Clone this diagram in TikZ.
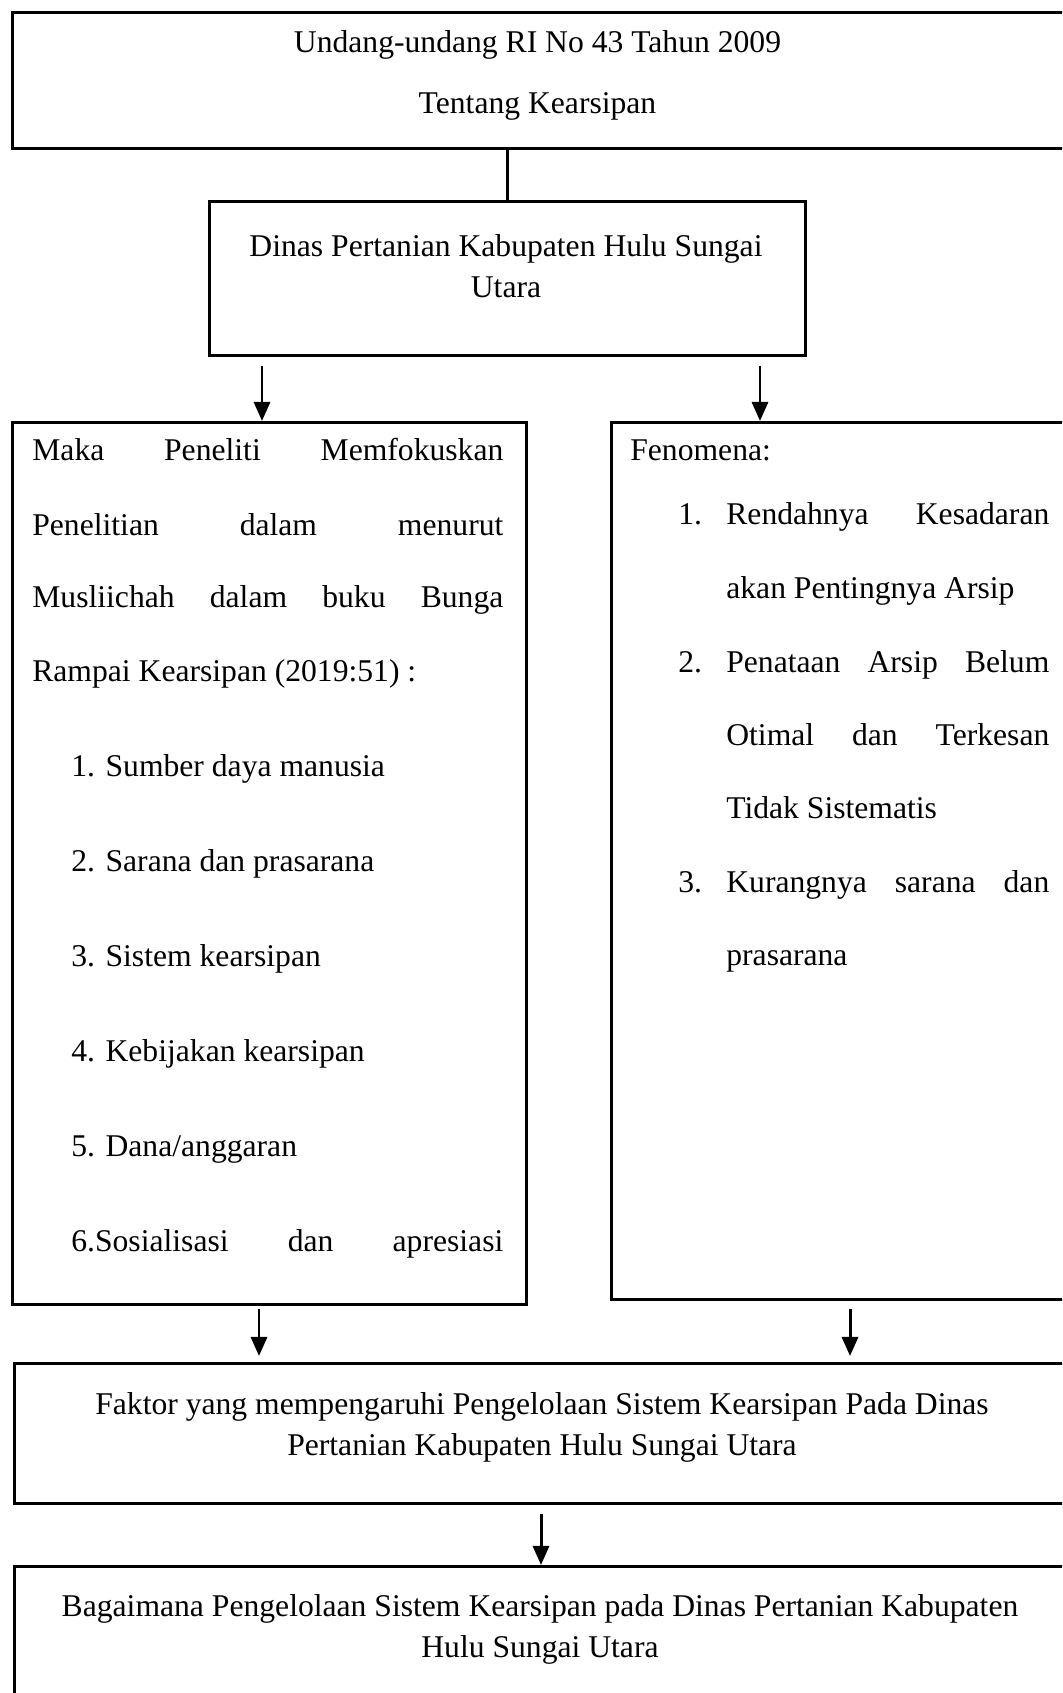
\documentclass[tikz,border=0pt]{standalone}
\usepackage{fontspec}
\setmainfont{Liberation Serif}
\usetikzlibrary{arrows.meta}

\newcommand{\justline}[2]{\hbox to #1{#2}}

\begin{document}
\begin{tikzpicture}[
    box/.style 2 args={draw, line width=1.7pt, anchor=north west, inner sep=0pt, minimum width=#1, minimum height=#2},
    txt/.style={font=\fontsize{18}{23}\selectfont, inner sep=0pt},
    ln/.style={txt, anchor=mid west, yshift=-0.13cm},
    arr/.style={line width=1.7pt, -{Triangle[length=0.38cm,width=0.32cm]}}
  ]
    \clip (0,0) rectangle (21.24,33.86);
    \node[box={21.08cm}{2.72cm}] (uu) at (0.22,33.64) {};
    \node[txt, align=center] (uutxt) at (10.75,32.35) {Undang-undang RI No 43 Tahun 2009\\[12pt]Tentang Kearsipan};
    \node[box={11.92cm}{3.08cm}] (dinas) at (4.16,29.86) {};
    \node[txt, align=center] (dinastxt) at (10.12,28.54) {Dinas Pertanian Kabupaten Hulu Sungai\\Utara};
    \node[box={10.28cm}{17.64cm}] (fokus) at (0.22,25.44) {};
    \node[box={9.2cm}{17.54cm}] (fenomena) at (12.2,25.44) {};
    \node[box={21.1cm}{2.8cm}] (faktor) at (0.26,6.62) {};
    \node[txt, align=center] (faktortxt) at (10.84,5.31) {Faktor yang mempengaruhi Pengelolaan Sistem Kearsipan Pada Dinas\\Pertanian Kabupaten Hulu Sungai Utara};
    \node[box={21.1cm}{3.2cm}] (bagaimana) at (0.26,2.56) {};
    \node[txt, align=center] (bagaimanatxt) at (10.8,1.27) {Bagaimana Pengelolaan Sistem Kearsipan pada Dinas Pertanian Kabupaten\\Hulu Sungai Utara};

    \node[ln] (f1) at (0.64,24.86) {\justline{9.42cm}{Maka\hfill Peneliti\hfill Memfokuskan}};
    \node[ln] (f2) at (0.64,23.36) {\justline{9.42cm}{Penelitian\hfill dalam\hfill menurut}};
    \node[ln] (f3) at (0.64,21.92) {\justline{9.42cm}{Musliichah\hfill dalam\hfill buku\hfill Bunga}};
    \node[ln] (f4) at (0.64,20.44) {Rampai Kearsipan (2019:51) :};
    \node[ln] (a1) at (1.42,18.54) {1. Sumber daya manusia};
    \node[ln] (a2) at (1.42,16.64) {2. Sarana dan prasarana};
    \node[ln] (a3) at (1.42,14.74) {3. Sistem kearsipan};
    \node[ln] (a4) at (1.42,12.84) {4. Kebijakan kearsipan};
    \node[ln] (a5) at (1.42,10.94) {5. Dana/anggaran};
    \node[ln] (a6) at (1.42,9.04) {\justline{8.64cm}{6.Sosialisasi\hfill dan\hfill apresiasi}};

    \node[ln] (fen) at (12.6,24.86) {Fenomena:};
    \node[ln] (n1) at (13.56,23.58) {1.};
    \node[ln] (b1) at (14.52,23.58) {\justline{6.46cm}{Rendahnya\hfill Kesadaran}};
    \node[ln] (b2) at (14.52,22.10) {akan Pentingnya Arsip};
    \node[ln] (n2) at (13.56,20.62) {2.};
    \node[ln] (b3) at (14.52,20.62) {\justline{6.46cm}{Penataan\hfill Arsip\hfill Belum}};
    \node[ln] (b4) at (14.52,19.16) {\justline{6.46cm}{Otimal\hfill dan\hfill Terkesan}};
    \node[ln] (b5) at (14.52,17.70) {Tidak Sistematis};
    \node[ln] (n3) at (13.56,16.22) {3.};
    \node[ln] (b6) at (14.52,16.22) {\justline{6.46cm}{Kurangnya\hfill sarana\hfill dan}};
    \node[ln] (b7) at (14.52,14.76) {prasarana};

    \draw[line width=1.7pt] (dinas.north) -- (dinas.north |- uu.south);
    \draw[arr] ([xshift=1.08cm,yshift=-0.18cm]dinas.south west) -- ([xshift=1.08cm]dinas.south west |- fokus.north);
    \draw[arr] ([xshift=-0.94cm,yshift=-0.18cm]dinas.south east) -- ([xshift=-0.94cm]dinas.south east |- fenomena.north);
    \draw[arr] ([xshift=4.96cm,yshift=-0.06cm]fokus.south west) -- ([xshift=4.96cm,yshift=0.12cm]fokus.south west |- faktor.north);
    \draw[arr] ([xshift=4.8cm,yshift=-0.16cm]fenomena.south west) -- ([xshift=4.8cm,yshift=0.12cm]fenomena.south west |- faktor.north);
    \draw[arr] ([xshift=10.56cm,yshift=-0.18cm]faktor.south west) -- ([xshift=10.56cm]faktor.south west |- bagaimana.north);
  \end{tikzpicture}
\end{document}
